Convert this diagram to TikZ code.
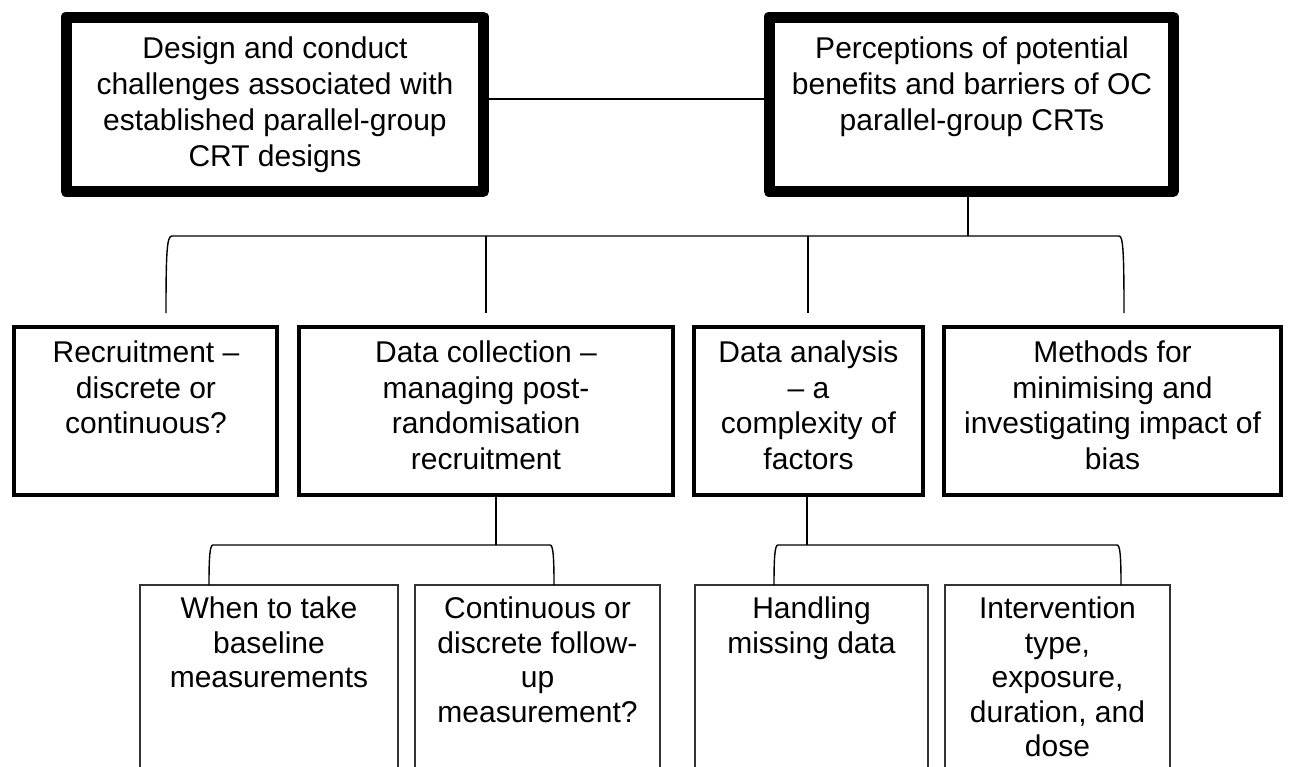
\documentclass[tikz,border=0pt]{standalone}
\usepackage{fontspec}
\setmainfont{Liberation Sans}
\begin{document}
\begin{tikzpicture}[x=1pt,y=-1pt,
  thickbox/.style={draw, line width=11pt, line join=round, inner sep=0pt, outer sep=0pt},
  midbox/.style={draw, line width=4pt, inner sep=0pt, outer sep=0pt},
  lowbox/.style={draw=black!80, line width=1.4pt, inner sep=0pt, outer sep=0pt},
  txt/.style={align=center, inner sep=0pt, anchor=north, font=\fontsize{30}{35.5}\selectfont},
  toptxt/.style={txt, font=\fontsize{30}{36}\selectfont},
  lowtxt/.style={txt, font=\fontsize{30}{34.5}\selectfont},
  conn/.style={line width=1.4pt}]
\useasboundingbox (0,0) rectangle (1292,766);
\clip (0,0) rectangle (1292,766);

% top level
\node[thickbox, minimum width=417.5pt, minimum height=174.5pt] (tl) at (274.75,104.25) {};
\node[toptxt] (tlt) at (275,37) {Design and conduct\\challenges associated with\\established parallel-group\\CRT designs};
\node[thickbox, minimum width=404pt, minimum height=174.5pt] (tr) at (971,104.25) {};
\node[toptxt] (trt) at (972,37) {Perceptions of potential\\benefits and barriers of OC\\parallel-group CRTs};

% middle level
\node[midbox, minimum width=263pt, minimum height=168pt] (m1) at (145.5,411) {};
\node[txt] (m1t) at (146,341) {Recruitment –\\discrete or\\continuous?};
\node[midbox, minimum width=374pt, minimum height=168pt] (m2) at (486,411) {};
\node[txt] (m2t) at (486,341) {Data collection –\\managing post-\\randomisation\\recruitment};
\node[midbox, minimum width=229pt, minimum height=168pt] (m3) at (808.5,411) {};
\node[txt] (m3t) at (808.5,341) {Data analysis\\– a\\complexity of\\factors};
\node[midbox, minimum width=337pt, minimum height=168pt] (m4) at (1112.5,411) {};
\node[txt] (m4t) at (1112.5,341) {Methods for\\minimising and\\investigating impact of\\bias};

% bottom level
\node[lowbox, minimum width=258pt, minimum height=215pt] (b1) at (269,692.5) {};
\node[lowtxt] (b1t) at (269,597) {When to take\\baseline\\measurements};
\node[lowbox, minimum width=245pt, minimum height=215pt] (b2) at (537.5,692.5) {};
\node[lowtxt] (b2t) at (537.5,597) {Continuous or\\discrete follow-\\up\\measurement?};
\node[lowbox, minimum width=233pt, minimum height=215pt] (b3) at (811.5,692.5) {};
\node[lowtxt] (b3t) at (811.5,597) {Handling\\missing data};
\node[lowbox, minimum width=225pt, minimum height=215pt] (b4) at (1057.5,692.5) {};
\node[lowtxt] (b4t) at (1057.5,597) {Intervention\\type,\\exposure,\\duration, and\\dose};

% connector between top boxes
\coordinate (c99) at (0,99);
\draw[conn] (tl.east |- c99) -- (tr.west |- c99);

% top brace
\coordinate (tj) at (968,236);
\coordinate (tbl) at (166,313);
\coordinate (tbr) at (1124,313);
\coordinate (t2) at (486,313);
\coordinate (t3) at (808,313);
\draw[conn] (tr.south -| tj) -- (tj);
\draw[conn] (tbl) .. controls (166,250) and (167,236) .. (172,236) -- (1119,236) .. controls (1123,236) and (1124,250) .. (tbr);
\draw[conn] (t2 |- tj) -- (t2);
\draw[conn] (t3 |- tj) -- (t3);

% lower-left brace
\coordinate (lj) at (496,545);
\coordinate (l1) at (209,585);
\coordinate (l2) at (554,585);
\draw[conn] (m2.south -| lj) -- (lj);
\draw[conn] (l1) .. controls (209,555) and (210,545) .. (213,545) -- (550,545) .. controls (553,545) and (554,555) .. (l2);

% lower-right brace
\coordinate (rj) at (807,545);
\coordinate (l3) at (774,585);
\coordinate (l4) at (1121,585);
\draw[conn] (m3.south -| rj) -- (rj);
\draw[conn] (l3) .. controls (774,555) and (775,545) .. (778,545) -- (1117,545) .. controls (1120,545) and (1121,555) .. (l4);
\end{tikzpicture}
\end{document}
